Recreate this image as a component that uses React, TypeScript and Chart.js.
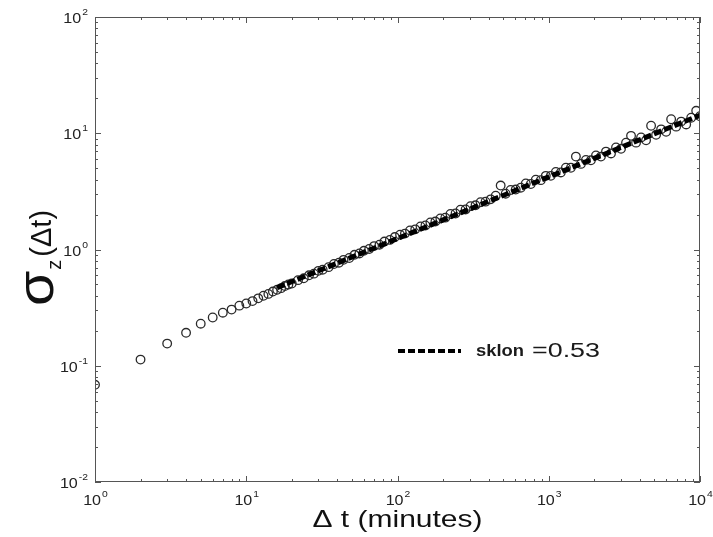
import React, { useEffect, useRef } from 'react';
import { Chart, registerables } from 'chart.js';

Chart.register(...registerables);

// Δt (minutes)
const sigmaX = [
  1, 2, 3, 4, 5, 6, 7, 8, 9, 10,
  11, 12, 13, 14, 15, 16, 17, 18, 19, 20,
  22, 24, 26, 28, 30, 32, 35, 38, 41, 44,
  48, 52, 56, 60, 65, 70, 76, 82, 89, 96,
  104, 112, 121, 131, 142, 153, 165, 178, 192, 207,
  224, 242, 261, 282, 304, 328, 354, 382, 413, 446,
  481, 519, 560, 605, 653, 705, 761, 821, 886, 956,
  1032, 1114, 1202, 1298, 1401, 1512, 1632, 1761, 1901, 2052,
  2214, 2390, 2580, 2784, 3005, 3243, 3500, 3778, 4077, 4400,
  4749, 5126, 5532, 5971, 6444, 6955, 7507, 8102, 8744, 9437, 10000,
];
// σz(Δt)
const sigmaY = [
  0.0686, 0.113, 0.155, 0.192, 0.23, 0.26, 0.286, 0.304, 0.329, 0.343,
  0.36, 0.38, 0.40, 0.415, 0.435, 0.45, 0.465, 0.485, 0.50, 0.51,
  0.545, 0.565, 0.60, 0.62, 0.655, 0.67, 0.705, 0.75, 0.77, 0.815,
  0.845, 0.90, 0.925, 0.975, 1.01, 1.07, 1.10, 1.17, 1.21, 1.28,
  1.34, 1.37, 1.46, 1.49, 1.58, 1.61, 1.71, 1.74, 1.85, 1.88,
  2.02, 2.04, 2.20, 2.21, 2.36, 2.40, 2.55, 2.58, 2.70, 2.90,
  3.55, 3.02, 3.25, 3.28, 3.40, 3.70, 3.66, 3.98, 3.95, 4.30,
  4.30, 4.65, 4.60, 5.05, 5.05, 6.30, 5.45, 5.90, 5.85, 6.45,
  6.30, 6.95, 6.70, 7.55, 7.35, 8.30, 9.50, 8.30, 9.20, 8.70,
  11.6, 9.70, 10.8, 10.3, 13.2, 11.4, 12.6, 11.9, 13.6, 15.6, 14.0,
];
// fitted line (slope 0.53)
const fitX = [16, 10000];
const fitY = [0.47, 14.3];
const fitLabel = 'sklon';
const fitValue = '=0.53';

const xTickValues = [1, 10, 100, 1000, 10000];
const xTickExps = ['0', '1', '2', '3', '4'];
const yTickValues = [0.01, 0.1, 1, 10, 100];
const yTickExps = ['-2', '-1', '0', '1', '2'];
const minorMultipliers = [2, 3, 4, 5, 6, 7, 8, 9];

const xTitleMain = 'Δ t (minutes)';
const yTitleSigma = 'σ';
const yTitleSub = 'z';
const yTitleRest = '(Δt)';

const FONT = '"Liberation Sans", Arial, Helvetica, sans-serif';

function drawStretched(ctx: CanvasRenderingContext2D, text: string, x: number, y: number, font: string, sx: number) {
  ctx.save();
  ctx.font = font;
  ctx.translate(x, y);
  ctx.scale(sx, 1);
  ctx.fillText(text, 0, 0);
  ctx.restore();
  ctx.font = font;
  return ctx.measureText(text).width * sx;
}

const decorPlugin = {
  id: 'decor',
  afterDraw(chart: any) {
    const { ctx, chartArea: ca } = chart;
    const xs = chart.scales.x;
    const ys = chart.scales.y;
    ctx.save();
    ctx.strokeStyle = '#555';
    ctx.lineWidth = 1;
    ctx.strokeRect(Math.round(ca.left) + 0.5, Math.round(ca.top) + 0.5, Math.round(ca.width) - 1, Math.round(ca.height) - 1);

    // inward ticks on all four sides
    ctx.beginPath();
    xTickValues.forEach((base, i) => {
      const vals = [base];
      if (i < xTickValues.length - 1) minorMultipliers.forEach((m) => vals.push(base * m));
      vals.forEach((v, k) => {
        const px = Math.round(xs.getPixelForValue(v)) + 0.5;
        const len = k === 0 ? 6 : 3;
        ctx.moveTo(px, ca.bottom);
        ctx.lineTo(px, ca.bottom - len);
        ctx.moveTo(px, ca.top);
        ctx.lineTo(px, ca.top + len);
      });
    });
    yTickValues.forEach((base, i) => {
      const vals = [base];
      if (i < yTickValues.length - 1) minorMultipliers.forEach((m) => vals.push(base * m));
      vals.forEach((v, k) => {
        const py = Math.round(ys.getPixelForValue(v)) + 0.5;
        const len = k === 0 ? 6 : 3;
        ctx.moveTo(ca.left, py);
        ctx.lineTo(ca.left + len, py);
        ctx.moveTo(ca.right, py);
        ctx.lineTo(ca.right - len, py);
      });
    });
    ctx.stroke();

    // tick labels: 10 with superscript exponent
    ctx.fillStyle = '#222';
    ctx.textBaseline = 'alphabetic';
    ctx.textAlign = 'left';
    const baseFont = `14px ${FONT}`;
    const expFont = `9px ${FONT}`;
    const sx = 1.15;
    const labelWidth = (exp: string) => {
      ctx.font = baseFont;
      const w1 = ctx.measureText('10').width * sx;
      ctx.font = expFont;
      const w2 = ctx.measureText(exp).width * sx;
      return [w1, w2];
    };
    xTickValues.forEach((v, i) => {
      const px = xs.getPixelForValue(v);
      const [w1, w2] = labelWidth(xTickExps[i]);
      const left = px - (w1 + w2) / 2;
      drawStretched(ctx, '10', left, 505, baseFont, sx);
      drawStretched(ctx, xTickExps[i], left + w1 + 1, 497, expFont, sx);
    });
    yTickValues.forEach((v, i) => {
      const py = ys.getPixelForValue(v);
      const [w1, w2] = labelWidth(yTickExps[i]);
      const right = 88;
      const left = right - w1 - w2 - 1;
      drawStretched(ctx, '10', left, py + 6, baseFont, sx);
      drawStretched(ctx, yTickExps[i], left + w1 + 1, py - 2, expFont, sx);
    });

    // x axis title
    ctx.fillStyle = '#111';
    const xtFont = `24px ${FONT}`;
    ctx.font = xtFont;
    const xtSx = 1.25;
    const xtW = ctx.measureText(xTitleMain).width * xtSx;
    const xc = (ca.left + ca.right) / 2;
    drawStretched(ctx, xTitleMain, xc - xtW / 2, 527, xtFont, xtSx);

    // y axis title (rotated)
    ctx.save();
    ctx.translate(53, 306);
    ctx.rotate(-Math.PI / 2);
    const sFont = `52px ${FONT}`;
    const zFont = `20px ${FONT}`;
    const rFont = `29px ${FONT}`;
    const w1 = drawStretched(ctx, yTitleSigma, 0, 0, sFont, 1.1);
    const w2 = drawStretched(ctx, yTitleSub, w1 + 1, 8, zFont, 1);
    drawStretched(ctx, yTitleRest, w1 + w2 + 4, -2, rFont, 1);
    ctx.restore();

    // legend inside the plot
    const ly = 351;
    ctx.strokeStyle = '#000';
    ctx.lineWidth = 4;
    ctx.setLineDash([7, 3]);
    ctx.beginPath();
    ctx.moveTo(398, ly);
    ctx.lineTo(461, ly);
    ctx.stroke();
    ctx.setLineDash([]);
    ctx.fillStyle = '#1a1a1a';
    ctx.textBaseline = 'middle';
    const lf1 = `bold 17px ${FONT}`;
    ctx.font = lf1;
    const m1 = ctx.measureText(fitLabel).width;
    drawStretched(ctx, fitLabel, 476, ly, lf1, 48 / m1);
    const lf2 = `20px ${FONT}`;
    ctx.font = lf2;
    const m2 = ctx.measureText(fitValue).width;
    drawStretched(ctx, fitValue, 532, ly, lf2, 68 / m2);

    ctx.restore();
  },
};

export default function App() {
  const ref = useRef<HTMLCanvasElement | null>(null);
  useEffect(() => {
    if (!ref.current) return;
    const chart = new Chart(ref.current, {
      type: 'scatter',
      data: {
        datasets: [
          {
            type: 'line',
            label: `${fitLabel} ${fitValue}`,
            data: fitX.map((x, i) => ({ x, y: fitY[i] })),
            borderColor: '#000',
            borderWidth: 5,
            borderDash: [8, 3],
            pointRadius: 0,
            fill: false,
          } as any,
          {
            label: 'σz(Δt)',
            data: sigmaX.map((x, i) => ({ x, y: sigmaY[i] })),
            pointStyle: 'circle',
            pointRadius: 4.3,
            pointBorderWidth: 1.3,
            borderColor: '#2a2a2a',
            backgroundColor: 'rgba(0,0,0,0)',
            pointBackgroundColor: 'rgba(0,0,0,0)',
            pointBorderColor: '#2a2a2a',
          } as any,
        ],
      },
      options: {
        responsive: false,
        animation: false,
        devicePixelRatio: 1,
        layout: { padding: { top: 17, right: 13, left: 0, bottom: 0 } },
        plugins: { legend: { display: false }, tooltip: { enabled: false } },
        scales: {
          x: {
            type: 'logarithmic',
            min: 1,
            max: 10000,
            ticks: { display: false },
            grid: { display: false },
            border: { display: false },
            afterFit: (s: any) => { s.height = 55; },
          },
          y: {
            type: 'logarithmic',
            min: 0.01,
            max: 100,
            ticks: { display: false },
            grid: { display: false },
            border: { display: false },
            afterFit: (s: any) => { s.width = 95; },
          },
        },
      },
      plugins: [decorPlugin],
    });
    return () => chart.destroy();
  }, []);
  return (
    <div style={{ position: 'absolute', left: 0, top: 0, width: 713, height: 537, background: '#fff' }}>
      <canvas ref={ref} width={713} height={537} style={{ width: 713, height: 537, display: 'block' }} />
    </div>
  );
}
